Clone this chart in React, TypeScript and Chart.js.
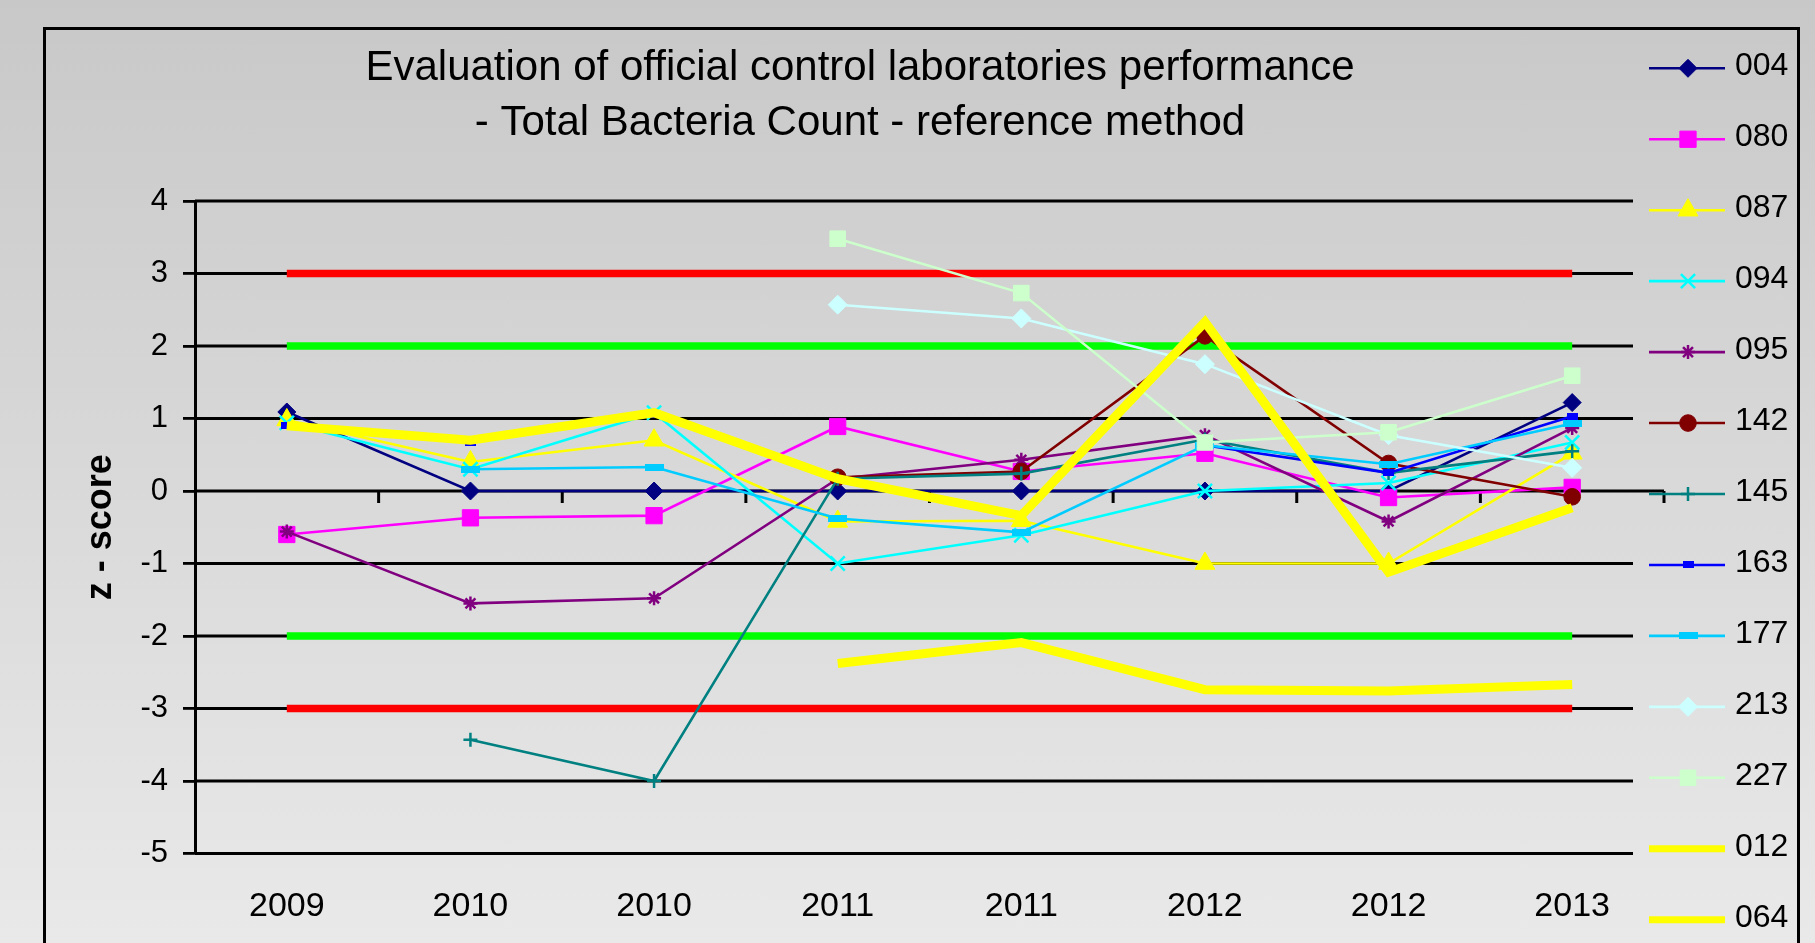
import React, { useEffect, useRef } from 'react';
import { Chart, registerables } from 'chart.js';
import { drawPoint } from 'chart.js/helpers';

Chart.register(...registerables);

const categories = ['2009', '2010', '2010', '2011', '2011', '2012', '2012', '2013'];

const s004 = [1.09, 0, 0, 0, 0, 0, 0, 1.22];
const s080 = [-0.6, -0.37, -0.34, 0.89, 0.27, 0.52, -0.09, 0.05];
const s087 = [0.98, 0.4, 0.7, -0.42, -0.41, -1.0, -1.0, 0.52];
const s094 = [0.94, 0.3, 1.08, -1.0, -0.61, 0, 0.11, 0.67];
const s095 = [-0.56, -1.55, -1.48, 0.17, 0.43, 0.77, -0.42, 0.87];
const s142 = [null, null, null, 0.19, 0.27, 2.14, 0.38, -0.08];
const s145 = [null, -3.43, -4.0, 0.17, 0.24, 0.71, 0.25, 0.55];
const s163 = [0.9, 0.67, 1.05, null, null, 0.63, 0.25, 1.03];
const s177 = [null, 0.3, 0.33, -0.38, -0.57, 0.63, 0.37, 0.93];
const s213 = [null, null, null, 2.57, 2.38, 1.75, 0.77, 0.32];
const s227 = [null, null, null, 3.48, 2.73, 0.67, 0.81, 1.59];
const s012 = [0.9, 0.7, 1.08, 0.17, -0.34, 2.33, -1.12, -0.23];
const s064 = [null, null, null, -2.38, -2.09, -2.74, -2.76, -2.67];

const upperAction = [3, 3, 3, 3, 3, 3, 3, 3];
const upperWarning = [2, 2, 2, 2, 2, 2, 2, 2];
const lowerWarning = [-2, -2, -2, -2, -2, -2, -2, -2];
const lowerAction = [-3, -3, -3, -3, -3, -3, -3, -3];

const titleLines = ['Evaluation of official control laboratories performance', '- Total Bacteria Count - reference method'];
const yTitle = 'z - score';
const yMin = -5;
const yMax = 4;

const FONT = '"Liberation Sans", Arial, sans-serif';

function rectMarker(w: number, h: number, color: string) {
  const c = document.createElement('canvas');
  c.width = w;
  c.height = h;
  const g = c.getContext('2d')!;
  g.fillStyle = color;
  g.fillRect(0, 0, w, h);
  return c;
}

export default function App() {
  const ref = useRef<HTMLCanvasElement | null>(null);

  useEffect(() => {
    const canvas = ref.current!;
    document.body.style.margin = '0';

    const series: any[] = [
      { label: '004', data: s004, color: '#000080', pointStyle: 'rectRot', radius: 9, bw: 1 },
      { label: '080', data: s080, color: '#FF00FF', pointStyle: 'rect', radius: 11.5, bw: 1 },
      { label: '087', data: s087, color: '#FFFF00', pointStyle: 'triangle', radius: 11.5, bw: 1 },
      { label: '094', data: s094, color: '#00FFFF', pointStyle: 'crossRot', radius: 10, bw: 2.5 },
      { label: '095', data: s095, color: '#800080', pointStyle: 'star', radius: 7, bw: 2.5 },
      { label: '142', data: s142, color: '#800000', pointStyle: 'circle', radius: 8.3, bw: 1 },
      { label: '145', data: s145, color: '#008080', pointStyle: 'cross', radius: 7, bw: 2.5 },
      { label: '163', data: s163, color: '#0000FF', pointStyle: rectMarker(11, 7, '#0000FF'), radius: 5, bw: 1 },
      { label: '177', data: s177, color: '#00CCFF', pointStyle: rectMarker(19, 7, '#00CCFF'), radius: 5, bw: 1 },
      { label: '213', data: s213, color: '#CCFFFF', pointStyle: 'rectRot', radius: 9.5, bw: 1 },
      { label: '227', data: s227, color: '#CCFFCC', pointStyle: 'rect', radius: 11, bw: 1 },
      { label: '012', data: s012, color: '#FFFF00', pointStyle: false, radius: 0, bw: 0, thick: true },
      { label: '064', data: s064, color: '#FFFF00', pointStyle: false, radius: 0, bw: 0, thick: true },
    ];

    const datasets: any[] = series.map((s, i) => ({
      label: s.label,
      data: s.data,
      borderColor: s.color,
      backgroundColor: s.color,
      borderWidth: s.thick ? 9 : 2.6,
      pointStyle: s.pointStyle,
      pointRadius: s.radius,
      pointBorderWidth: s.bw,
      pointBackgroundColor: s.color,
      pointBorderColor: s.color,
      tension: 0,
      order: 50 - i,
      _legend: true,
    }));

    const limits = [
      { data: upperAction, color: '#FF0000' },
      { data: upperWarning, color: '#00FF00' },
      { data: lowerWarning, color: '#00FF00' },
      { data: lowerAction, color: '#FF0000' },
    ];
    limits.forEach((l) => {
      datasets.push({
        label: '',
        data: l.data,
        borderColor: l.color,
        backgroundColor: l.color,
        borderWidth: 7.5,
        pointRadius: 0,
        tension: 0,
        order: 100,
        borderCapStyle: 'butt',
        _legend: false,
      });
    });

    const decor = {
      id: 'decor',
      beforeDatasetsDraw(chart: any) {
        const ctx = chart.ctx;
        const ys = chart.scales.y;
        const xs = chart.scales.x;
        const { left, right } = chart.chartArea;
        ctx.save();
        ctx.strokeStyle = '#000';
        ys.ticks.forEach((t: any) => {
          const py = ys.getPixelForValue(t.value);
          ctx.lineWidth = t.value === 0 ? 3 : 2.8;
          ctx.beginPath();
          ctx.moveTo(left, py);
          ctx.lineTo(t.value === 0 ? right : right - 31, py);
          ctx.stroke();
        });
        const p0 = ys.getPixelForValue(0);
        ctx.lineWidth = 3;
        for (let i = 1; i <= categories.length; i++) {
          const px = xs.getPixelForValue(i - 0.5);
          ctx.beginPath();
          ctx.moveTo(px, p0);
          ctx.lineTo(px, p0 + 12);
          ctx.stroke();
        }
        ctx.restore();
      },
      afterDraw(chart: any) {
        const ctx = chart.ctx;
        ctx.save();
        ctx.fillStyle = '#000';
        ctx.font = `42px ${FONT}`;
        ctx.textAlign = 'center';
        ctx.textBaseline = 'alphabetic';
        ctx.fillText(titleLines[0], 860, 80);
        ctx.fillText(titleLines[1], 860, 135);

        const legendSets = chart.data.datasets.filter((d: any) => d._legend);
        legendSets.forEach((d: any, i: number) => {
          const y = 68.3 + i * 70.95;
          ctx.strokeStyle = d.borderColor;
          ctx.lineWidth = d.borderWidth > 5 ? 7 : 2.6;
          ctx.lineCap = 'butt';
          ctx.beginPath();
          ctx.moveTo(1649, y);
          ctx.lineTo(1725, y);
          ctx.stroke();
          if (d.pointStyle) {
            ctx.fillStyle = d.pointBackgroundColor;
            ctx.strokeStyle = d.pointBorderColor;
            ctx.lineWidth = d.pointBorderWidth;
            drawPoint(ctx, { pointStyle: d.pointStyle, radius: d.pointRadius, rotation: 0, borderWidth: d.pointBorderWidth }, 1688, y);
          }
          ctx.fillStyle = '#000';
          ctx.font = `32px ${FONT}`;
          ctx.textAlign = 'left';
          ctx.textBaseline = 'middle';
          ctx.fillText(d.label, 1735, y - 2);
        });
        ctx.restore();
      },
    };

    const chart = new Chart(canvas, {
      type: 'line',
      data: { labels: categories, datasets },
      options: {
        animation: false,
        responsive: false,
        maintainAspectRatio: false,
        layout: { padding: { left: 0, top: 201, right: 151, bottom: 0 } },
        plugins: { legend: { display: false }, tooltip: { enabled: false }, title: { display: false } },
        elements: { line: { borderJoinStyle: 'miter' } },
        scales: {
          x: {
            type: 'category',
            offset: true,
            grid: { display: false, drawTicks: false },
            border: { display: false },
            ticks: { color: '#000', font: { family: FONT, size: 34 }, padding: 33, maxRotation: 0, autoSkip: false },
            afterFit: (s: any) => { s.height = 89.5; },
          },
          y: {
            min: yMin,
            max: yMax,
            ticks: { stepSize: 1, color: '#000', font: { family: FONT, size: 31 }, padding: 15 },
            grid: { drawOnChartArea: false, drawTicks: true, tickLength: 12, color: '#000', lineWidth: 2.8 },
            border: { display: true, color: '#000', width: 3 },
            title: { display: true, text: yTitle, color: '#000', font: { family: FONT, size: 36, weight: 'bold' }, padding: { top: 79, bottom: 0 } },
            afterFit: (s: any) => { s.width = 195; },
          },
        },
      } as any,
      plugins: [decor],
    });
    return () => chart.destroy();
  }, []);

  return (
    <div style={{ position: 'fixed', left: 0, top: 0, width: 1815, height: 943, overflow: 'hidden', background: 'linear-gradient(#c8c8c8, #e9e9e9)' }}>
      <div style={{ position: 'absolute', left: 43, top: 27, width: 1757, height: 1000, border: '3px solid #000', boxSizing: 'border-box' }} />
      <canvas ref={ref} width={1815} height={943} style={{ position: 'absolute', left: 0, top: 0, width: 1815, height: 943 }} />
    </div>
  );
}
